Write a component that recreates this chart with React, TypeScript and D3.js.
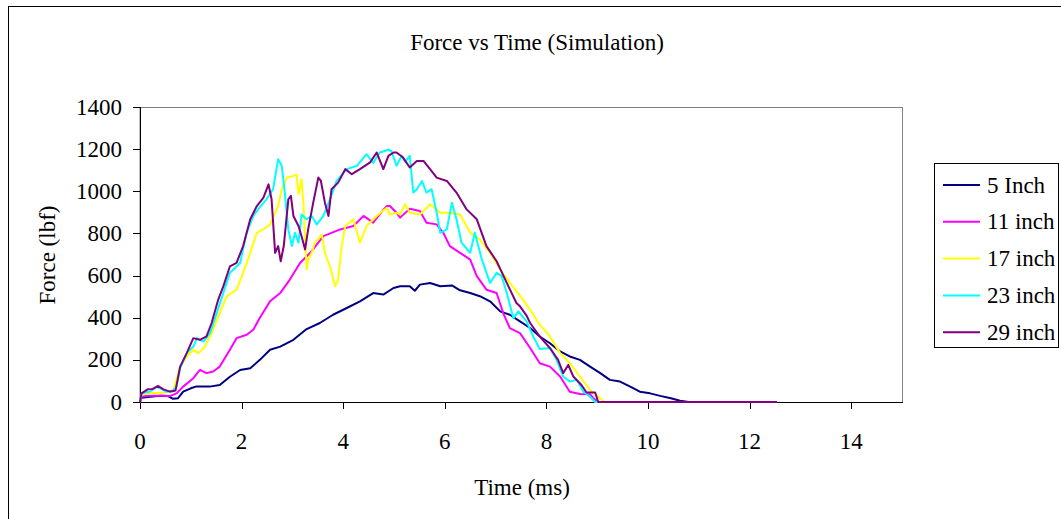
import React from "react";
import * as d3 from "d3";

const title = "Force vs Time (Simulation)";
const xTitle = "Time (ms)";
const yTitle = "Force (lbf)";
const xTicks = [0, 2, 4, 6, 8, 10, 12, 14];
const yTicks = [0, 200, 400, 600, 800, 1000, 1200, 1400];
const seriesNames = ["5 Inch", "11 inch", "17 inch", "23 inch", "29 inch"];
const seriesColors = ["#000080", "#FF00FF", "#FFFF00", "#00FFFF", "#800080"];

// [time (ms), force (lbf)]
const inch5: [number, number][] = [
  [0, 0], [0.03, 20], [0.2, 25], [0.4, 30], [0.55, 28], [0.65, 15], [0.75, 18], [0.85, 49], [1.0, 65], [1.1, 73],
  [1.37, 73], [1.57, 81], [1.77, 120], [1.97, 152], [2.17, 160], [2.36, 200], [2.56, 248], [2.76, 263], [3.02, 295], [3.28, 346],
  [3.54, 375], [3.8, 414], [4.07, 446], [4.33, 478], [4.59, 517], [4.79, 510], [4.99, 541], [5.12, 549], [5.31, 549], [5.41, 528],
  [5.51, 557], [5.71, 565], [5.91, 549], [6.14, 553], [6.3, 530], [6.5, 517], [6.69, 502], [6.89, 478], [7.09, 430], [7.28, 414],
  [7.48, 383], [7.68, 351], [7.87, 311], [8.07, 279], [8.27, 240], [8.46, 216], [8.66, 200], [8.86, 168], [9.06, 137], [9.25, 105],
  [9.45, 97], [9.65, 73], [9.84, 49], [10.04, 41], [10.24, 29], [10.45, 18], [10.63, 6], [10.8, 0], [12.54, 0],
];
const inch11: [number, number][] = [
  [0, 0], [0.03, 25], [0.15, 30], [0.4, 30], [0.6, 29], [0.72, 41], [0.85, 73], [1.05, 113], [1.18, 152], [1.31, 137],
  [1.44, 145], [1.57, 168], [1.77, 248], [1.9, 303], [2.1, 319], [2.23, 343], [2.36, 400], [2.56, 478], [2.76, 517], [2.95, 581],
  [3.15, 660], [3.35, 708], [3.61, 787], [3.94, 819], [4.2, 835], [4.4, 883], [4.59, 851], [4.75, 900], [4.86, 930], [4.92, 930],
  [5.05, 898], [5.12, 875], [5.31, 917], [5.51, 906], [5.64, 851], [5.84, 843], [5.97, 803], [6.1, 740], [6.3, 708], [6.5, 676],
  [6.63, 597], [6.82, 533], [7.02, 517], [7.15, 422], [7.28, 351], [7.48, 327], [7.68, 256], [7.87, 184], [8.07, 168], [8.27, 121],
  [8.46, 49], [8.66, 38], [8.86, 37], [8.92, 19], [9.02, 0], [12.54, 0],
];
const inch17: [number, number][] = [
  [0, 0], [0.03, 35], [0.2, 41], [0.5, 45], [0.66, 57], [0.79, 168], [0.92, 216], [1.05, 248], [1.15, 232], [1.28, 263],
  [1.44, 343], [1.57, 422], [1.71, 502], [1.9, 533], [2.03, 613], [2.17, 708], [2.3, 803], [2.43, 820], [2.56, 843], [2.72, 930],
  [2.79, 1010], [2.89, 1065], [3.02, 1073], [3.08, 1080], [3.12, 986], [3.18, 1057], [3.22, 930], [3.28, 629], [3.31, 676], [3.38, 708],
  [3.44, 756], [3.58, 795], [3.64, 708], [3.74, 644], [3.84, 549], [3.9, 581], [3.97, 740], [4.04, 835], [4.2, 867], [4.33, 756],
  [4.46, 835], [4.66, 883], [4.86, 922], [4.92, 890], [5.05, 898], [5.12, 890], [5.22, 938], [5.31, 898], [5.51, 890], [5.71, 938],
  [5.91, 898], [6.1, 898], [6.3, 890], [6.5, 803], [6.69, 771], [6.89, 708], [7.09, 629], [7.28, 565], [7.48, 505], [7.68, 438],
  [7.87, 367], [8.07, 311], [8.27, 232], [8.46, 184], [8.66, 121], [8.86, 57], [9.06, 18], [9.15, 0], [12.54, 0],
];
const inch23: [number, number][] = [
  [0, 0], [0.03, 41], [0.2, 50], [0.33, 73], [0.52, 49], [0.65, 55], [0.72, 73], [0.79, 160], [0.92, 232], [1.05, 263],
  [1.12, 303], [1.25, 287], [1.38, 327], [1.51, 422], [1.64, 517], [1.77, 613], [1.97, 660], [2.1, 803], [2.23, 883], [2.36, 925],
  [2.49, 962], [2.62, 1010], [2.72, 1152], [2.79, 1121], [2.85, 994], [2.92, 819], [2.99, 740], [3.05, 803], [3.12, 756], [3.18, 890],
  [3.28, 867], [3.38, 883], [3.48, 843], [3.61, 883], [3.74, 962], [3.87, 1049], [4.07, 1105], [4.27, 1121], [4.46, 1176], [4.59, 1135],
  [4.72, 1184], [4.89, 1197], [4.95, 1190], [5.05, 1121], [5.15, 1168], [5.22, 1140], [5.31, 1168], [5.38, 994], [5.45, 1010], [5.55, 1049],
  [5.64, 994], [5.74, 1010], [5.84, 898], [5.91, 803], [6.04, 819], [6.14, 946], [6.23, 867], [6.33, 756], [6.5, 708], [6.59, 803],
  [6.73, 676], [6.89, 565], [7.02, 613], [7.12, 597], [7.22, 517], [7.35, 398], [7.45, 430], [7.61, 383], [7.74, 311], [7.87, 251],
  [8.07, 256], [8.2, 200], [8.33, 121], [8.46, 97], [8.6, 105], [8.73, 49], [8.86, 25], [8.96, 0], [12.54, 0],
];
const inch29: [number, number][] = [
  [0, 0], [0.03, 41], [0.15, 60], [0.25, 62], [0.36, 76], [0.46, 60], [0.59, 49], [0.7, 55], [0.79, 168], [0.92, 232],
  [1.05, 303], [1.18, 295], [1.31, 311], [1.41, 375], [1.54, 486], [1.64, 549], [1.77, 644], [1.9, 660], [2.03, 740], [2.17, 867],
  [2.3, 930], [2.43, 970], [2.53, 1033], [2.59, 962], [2.66, 708], [2.72, 740], [2.77, 668], [2.83, 740], [2.92, 962], [2.97, 978],
  [3.02, 883], [3.12, 835], [3.18, 787], [3.25, 724], [3.31, 819], [3.41, 946], [3.51, 1065], [3.56, 1050], [3.64, 946], [3.71, 883],
  [3.77, 1010], [3.9, 1041], [4.04, 1105], [4.17, 1081], [4.33, 1105], [4.53, 1137], [4.66, 1184], [4.79, 1105], [4.89, 1168], [4.99, 1184],
  [5.05, 1184], [5.18, 1160], [5.31, 1113], [5.45, 1144], [5.58, 1144], [5.71, 1105], [5.84, 1065], [6.04, 1049], [6.23, 994], [6.43, 914],
  [6.63, 867], [6.82, 740], [7.02, 668], [7.22, 565], [7.41, 470], [7.48, 454], [7.61, 410], [7.68, 375], [7.87, 311], [8.07, 256],
  [8.23, 200], [8.33, 137], [8.43, 176], [8.53, 121], [8.69, 81], [8.79, 45], [8.96, 45], [9.02, 0], [12.54, 0],
];
const seriesData = [inch5, inch11, inch17, inch23, inch29];

const W = 1061;
const H = 519;
const plot = { left: 140, right: 902, top: 107, bottom: 402 };
const FONT = '"Times New Roman", "Liberation Serif", "DejaVu Serif", serif';
const FS = 23;

export default function App() {
  const x = d3.scaleLinear().domain([0, 15]).range([plot.left, plot.right]);
  const y = d3.scaleLinear().domain([0, 1400]).range([plot.bottom, plot.top]);
  const line = d3
    .line<[number, number]>()
    .x((d) => x(d[0]))
    .y((d) => y(d[1]));

  const legend = { x: 934, y: 163, w: 124, h: 184, row0: 185, step: 36.8 };
  const textStyle = { fontFamily: FONT, fontSize: FS };

  return (
    <svg
      width={W}
      height={H}
      style={{ position: "absolute", left: 0, top: 0, display: "block", fontFamily: FONT }}
    >
      <rect x={0} y={0} width={W} height={H} fill="#fff" />
      <rect x={8.5} y={6.5} width={W + 10} height={H + 10} fill="#fff" stroke="#000" strokeWidth={1} />
      <text x={537} y={50} textAnchor="middle" style={textStyle} fill="#000">
        {title}
      </text>
      {/* plot area */}
      <rect
        x={plot.left}
        y={plot.top + 0.5}
        width={plot.right - plot.left + 0.5}
        height={plot.bottom - plot.top}
        fill="#fff"
        stroke="#808080"
        strokeWidth={1}
      />
      {/* axes */}
      <line x1={plot.left + 0.5} x2={plot.left + 0.5} y1={plot.top} y2={plot.bottom} stroke="#000" />
      <line x1={plot.left} x2={plot.right + 1} y1={plot.bottom + 0.5} y2={plot.bottom + 0.5} stroke="#000" />
      {yTicks.map((t) => (
        <g key={"y" + t}>
          <line x1={plot.left - 7} x2={plot.left} y1={Math.round(y(t)) + 0.5} y2={Math.round(y(t)) + 0.5} stroke="#000" />
          <text x={122} y={y(t)} textAnchor="end" dominantBaseline="central" style={textStyle} fill="#000">
            {t}
          </text>
        </g>
      ))}
      {xTicks.map((t) => (
        <g key={"x" + t}>
          <line x1={Math.round(x(t)) + 0.5} x2={Math.round(x(t)) + 0.5} y1={plot.bottom} y2={plot.bottom + 7} stroke="#000" />
          <text x={x(t)} y={449} textAnchor="middle" style={textStyle} fill="#000">
            {t}
          </text>
        </g>
      ))}
      <text x={522} y={495} textAnchor="middle" style={textStyle} fill="#000">
        {xTitle}
      </text>
      <text
        transform={`translate(47,255) rotate(-90)`}
        textAnchor="middle"
        dominantBaseline="central"
        style={textStyle}
        fill="#000"
      >
        {yTitle}
      </text>
      {/* series */}
      <g>
        {seriesData.map((s, i) => (
          <path key={i} d={line(s) || ""} fill="none" stroke={seriesColors[i]} strokeWidth={2} strokeLinejoin="round" />
        ))}
      </g>
      {/* legend */}
      <rect x={legend.x + 0.5} y={legend.y + 0.5} width={legend.w} height={legend.h} fill="#fff" stroke="#000" />
      {seriesNames.map((n, i) => {
        const ry = legend.row0 + i * legend.step;
        return (
          <g key={n}>
            <line x1={943} x2={980} y1={ry} y2={ry} stroke={seriesColors[i]} strokeWidth={2} />
            <text x={987} y={ry} dominantBaseline="central" style={textStyle} fill="#000">
              {n}
            </text>
          </g>
        );
      })}
    </svg>
  );
}
